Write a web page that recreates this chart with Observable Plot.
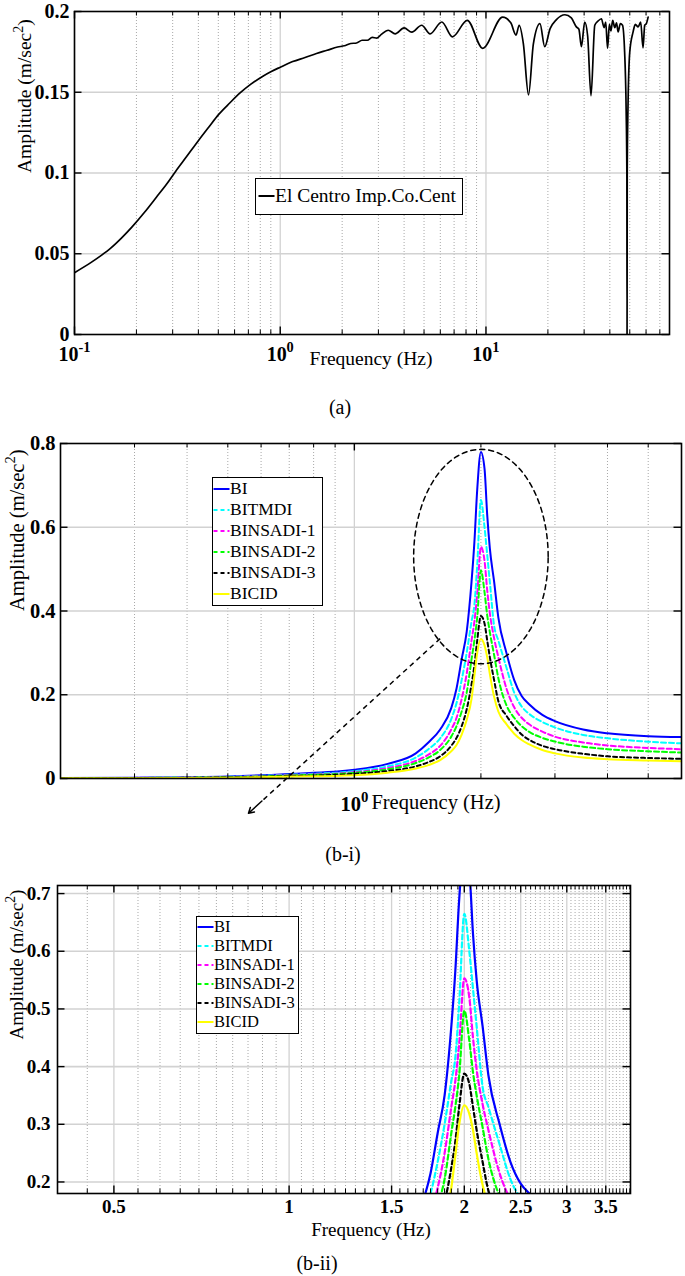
<!DOCTYPE html>
<html><head><meta charset="utf-8">
<script src="https://cdn.jsdelivr.net/npm/d3@7"></script>
<script src="https://cdn.jsdelivr.net/npm/@observablehq/plot@0.6"></script>
<style>
body{margin:0;background:#fff;}
#root{position:relative;width:685px;height:1276px;background:#fff;font-family:"Liberation Serif","Times New Roman",serif;overflow:hidden;color:#000}
#root svg, #root svg text, #root svg tspan{font-family:"Liberation Serif","Times New Roman",serif !important;}
.cap{position:absolute;font-size:20px;line-height:20px;transform:translateX(-50%);white-space:nowrap}
.legend{position:absolute;border:1.5px solid #000;background:#fff;box-sizing:border-box}
.row{display:flex;align-items:center;white-space:nowrap}
.row svg{flex:none}
</style></head><body><div id="root"></div>
<script>
// ---------- Panel (a) data: El Centro Fourier amplitude ----------
const aFreq = [0.1,0.12,0.135,0.15,0.17,0.19,0.22,0.25,0.28,0.31,0.35,0.4,0.45,0.5,0.57,0.64,0.72,0.82,0.9,1.0,1.15,1.32,1.5,1.69,1.9,2.05,2.2,2.35,2.5,2.65,2.8,2.95,3.1,3.35,3.62,4.0,4.36,4.87,5.35,6.1,6.87,8.11,9.64,12.05,13.2,14.0,14.5,15.2,16.1,17.0,18.3,19.3,20.5,22.0,24.2,26.0,27.5,28.3,29.1,30.2,31.2,32.4,33.8,35.0,36.4,37.5,38.2,39.0,39.8,40.5,41.3,42.3,43.1,43.9,45.0,46.1,47.2,48.0,48.4,48.5,48.6,49.0,50.0,51.9,53.2,54.9,56.5,58.0,59.1,60.2,61.4];
const aAmp = [0.0383,0.0445,0.049,0.0535,0.06,0.0665,0.076,0.085,0.093,0.101,0.11,0.12,0.1285,0.136,0.1435,0.1497,0.155,0.1598,0.1627,0.1655,0.169,0.1715,0.174,0.176,0.178,0.1788,0.1802,0.1805,0.1822,0.1822,0.184,0.1835,0.1858,0.1884,0.1862,0.1898,0.1872,0.1915,0.1862,0.1935,0.1843,0.1945,0.1772,0.1965,0.193,0.1854,0.1915,0.18,0.1484,0.18,0.1925,0.1782,0.1894,0.195,0.198,0.196,0.1905,0.189,0.1782,0.1935,0.185,0.1478,0.1915,0.194,0.1955,0.19,0.1935,0.1772,0.192,0.188,0.1945,0.19,0.193,0.1874,0.1925,0.1915,0.175,0.14,0.1,0.0,0.1,0.14,0.175,0.1874,0.192,0.1905,0.1935,0.1775,0.1915,0.1925,0.1965];
const aMajorTicks = [0.1, 1, 10];
const aMinorTicks = [0.2,0.3,0.4,0.5,0.6,0.7,0.8,0.9,2,3,4,5,6,7,8,9,20,30,40,50,60,70];
const aYTicks = [0, 0.05, 0.1, 0.15, 0.2];
const aLegendLabel = "El Centro Imp.Co.Cent";

// ---------- Panel (b) data: response spectra ----------
const bFreq = [0.2,0.3,0.5,0.7,1.0,1.2,1.4,1.5,1.6,1.7,1.75,1.8,1.85,1.9,1.93,1.96,2.0,2.04,2.07,2.1,2.15,2.2,2.3,2.4,2.5,2.6,2.8,3.0,3.5,4.0,5.0,6.0];
const seriesNames = ["BI","BITMDI","BINSADI-1","BINSADI-2","BINSADI-3","BICID"];
const ampBI       = [0.001,0.002,0.005,0.011,0.021,0.035,0.060,0.086,0.117,0.168,0.215,0.285,0.35,0.47,0.565,0.69,0.78,0.74,0.63,0.55,0.47,0.385,0.30,0.235,0.197,0.178,0.152,0.137,0.117,0.108,0.101,0.099];
const ampBITMDI   = [0.001,0.0015,0.004,0.009,0.0175,0.029,0.050,0.070,0.096,0.142,0.18,0.235,0.30,0.375,0.415,0.51,0.665,0.60,0.535,0.47,0.365,0.33,0.265,0.205,0.172,0.155,0.135,0.122,0.104,0.096,0.088,0.084];
const ampBINSADI1 = [0.001,0.0015,0.0035,0.008,0.015,0.025,0.042,0.057,0.078,0.117,0.145,0.19,0.25,0.33,0.375,0.44,0.553,0.52,0.45,0.395,0.335,0.29,0.215,0.17,0.145,0.13,0.112,0.10,0.086,0.079,0.073,0.070];
const ampBINSADI2 = [0.0008,0.0013,0.003,0.007,0.0136,0.022,0.037,0.05,0.068,0.10,0.125,0.16,0.205,0.285,0.33,0.385,0.497,0.445,0.39,0.35,0.295,0.24,0.175,0.145,0.125,0.112,0.097,0.088,0.076,0.07,0.065,0.062];
const ampBINSADI3 = [0.0005,0.001,0.0025,0.0055,0.011,0.018,0.029,0.039,0.053,0.078,0.097,0.125,0.165,0.225,0.27,0.33,0.388,0.37,0.33,0.29,0.235,0.185,0.15,0.125,0.105,0.093,0.078,0.07,0.059,0.053,0.049,0.047];
const ampBICID    = [0.0005,0.0008,0.002,0.0045,0.008,0.014,0.024,0.032,0.044,0.065,0.08,0.105,0.14,0.19,0.245,0.30,0.333,0.318,0.29,0.25,0.195,0.16,0.13,0.107,0.092,0.082,0.068,0.06,0.05,0.046,0.043,0.041];
const seriesAmps = [ampBI, ampBITMDI, ampBINSADI1, ampBINSADI2, ampBINSADI3, ampBICID];

const biMajorTicks = [1];
const biMinorTicks = [0.3,0.4,0.5,0.6,0.7,0.8,0.9,2,3,4,5];
const biYTicks = [0, 0.2, 0.4, 0.6, 0.8];
const zoomEllipse = {f: 2.0, amp: 0.53, halfDecades: 0.16, halfAmp: 0.256};
const zoomArrow = {f1: 1.6, a1: 0.334, f2: 0.56, a2: -0.083};

const biiMajorTicks = [0.5, 1, 1.5, 2, 2.5, 3, 3.5];
const biiYTicks = [0.2, 0.3, 0.4, 0.5, 0.6, 0.7];

// ---------- styles ----------
const seriesColors = ["#0000ff", "#00ffff", "#ff00ff", "#00ff00", "#000000", "#ffff00"];
const seriesDash = [null, "5,3", "5,3", "5,3", "4,3", null];
const FONT = '"Liberation Serif","Times New Roman",serif';

const root = document.getElementById("root");

function supers(svg) {
  d3.select(svg).selectAll("text").each(function () {
    const s = this.textContent;
    if (!s.includes("^")) return;
    const fs = parseFloat(getComputedStyle(this).fontSize) || 20;
    const parts = s.split(/\^(-?\w+)/);
    this.textContent = "";
    const el = d3.select(this);
    let raised = false;
    parts.forEach((p, i) => {
      if (p === "") return;
      const sup = i % 2 === 1;
      const ts = el.append("tspan").text(p);
      if (sup) { ts.attr("font-size", (fs * 0.72) + "px"); if (!raised) { ts.attr("dy", -fs * 0.42); raised = true; } }
      else if (raised) { ts.attr("dy", fs * 0.42); raised = false; }
    });
  });
}

function furniture(o) {
  const fh = o.height - o.mt - o.mb, fw = o.width - o.ml - o.mr;
  const minorLen = 4.5, majorLen = 7.5;
  const grids = [
    Plot.gridX(o.xMinor, {x: d => d, stroke: "#a8a8a8", strokeOpacity: 1, strokeWidth: 1, strokeDasharray: "1,2"}),
    Plot.gridX(o.xMajor, {x: d => d, stroke: "#d2d2d2", strokeOpacity: 1, strokeWidth: 1.3}),
    Plot.gridY(o.yGrid, {y: d => d, stroke: "#d2d2d2", strokeOpacity: 1, strokeWidth: 1.6})
  ];
  const ticks = [
    Plot.tickX(o.xMinor, {x: d => d, insetTop: fh - minorLen, stroke: "#000", strokeWidth: 1}),
    Plot.tickX(o.xMinor, {x: d => d, insetBottom: fh - minorLen, stroke: "#000", strokeWidth: 1}),
    Plot.tickX(o.xMajor, {x: d => d, insetTop: fh - majorLen, stroke: "#000", strokeWidth: 1.4}),
    Plot.tickX(o.xMajor, {x: d => d, insetBottom: fh - majorLen, stroke: "#000", strokeWidth: 1.4}),
    Plot.tickY(o.yTicks, {y: d => d, insetRight: fw - majorLen, stroke: "#000", strokeWidth: 1.4}),
    Plot.tickY(o.yTicks, {y: d => d, insetLeft: fw - majorLen, stroke: "#000", strokeWidth: 1.4}),
    Plot.frame({stroke: "#000", strokeWidth: 1.6}),
    Plot.axisX(o.xMajor, {label: null, tickSize: 0, tickPadding: o.xPad, tickFormat: o.xFmt, fontWeight: "bold", fontSize: o.tickFont, fontFamily: FONT}),
    Plot.axisY(o.yTicks, {label: null, tickSize: 0, tickPadding: o.yPad, tickFormat: d => String(d), fontWeight: "bold", fontSize: o.tickFont, fontFamily: FONT}),
    Plot.text(["Frequency (Hz)"], {text: d => d, frameAnchor: "bottom", dx: o.xLabelDx, dy: o.xLabelDy, fontSize: o.labelFont, fontFamily: FONT}),
    Plot.text(["Amplitude (m/sec^2)"], {text: d => d, frameAnchor: "left", rotate: -90, dx: o.yLabelDx, fontSize: o.labelFont, fontFamily: FONT})
  ];
  return {grids, ticks};
}

function place(svg, top) {
  svg.style.position = "absolute";
  svg.style.left = "0px";
  svg.style.top = top + "px";
  svg.style.overflow = "visible";
  svg.style.background = "transparent";
  root.appendChild(svg);
  supers(svg);
}

// ---------- Panel (a) ----------
{
  const o = {width: 685, height: 378, mt: 11, mr: 16, mb: 44, ml: 74,
    xMinor: aMinorTicks, xMajor: aMajorTicks, yGrid: aYTicks.slice(1, 4), yTicks: aYTicks,
    xFmt: d => "10^" + Math.round(Math.log10(d)), xPad: 12, yPad: 5, tickFont: 20,
    xLabelDx: -1, xLabelDy: 30, yLabelDx: -50, labelFont: 19.5};
  const f = furniture(o);
  const aData = aFreq.map((fq, i) => ({f: fq, a: aAmp[i]}));
  const svg = Plot.plot({
    width: o.width, height: o.height, marginTop: o.mt, marginRight: o.mr, marginBottom: o.mb, marginLeft: o.ml,
    style: {fontFamily: FONT, fontSize: "20px", background: "transparent", color: "#000"},
    x: {type: "log", domain: [0.1, 78]},
    y: {domain: [0, 0.2]},
    marks: [...f.grids,
      Plot.line(aData, {x: "f", y: "a", stroke: "#000", strokeWidth: 1.7, curve: "monotone-x", clip: true}),
      ...f.ticks]
  });
  place(svg, 0);
}

// ---------- Panel (b-i) ----------
{
  const o = {width: 685, height: 400, mt: 13, mr: 4, mb: 52, ml: 60,
    xMinor: biMinorTicks, xMajor: biMajorTicks, yGrid: [0.2, 0.4, 0.6], yTicks: biYTicks,
    xFmt: d => "10^" + Math.round(Math.log10(d)), xPad: 18, yPad: 5, tickFont: 20.5,
    xLabelDx: 65, xLabelDy: 30, yLabelDx: -43, labelFont: 20.5};
  const f = furniture(o);
  const lines = seriesNames.map((name, s) =>
    Plot.line(bFreq, {x: d => d, y: (d, j) => seriesAmps[s][j], stroke: seriesColors[s], strokeWidth: 2,
      strokeDasharray: seriesDash[s] || undefined, curve: "monotone-x", clip: true}));
  const ell = d3.range(0, 121).map(k => {
    const t = k / 120 * 2 * Math.PI;
    return {f: zoomEllipse.f * Math.pow(10, zoomEllipse.halfDecades * Math.cos(t)), a: zoomEllipse.amp + zoomEllipse.halfAmp * Math.sin(t)};
  });
  const frac = 0.93;
  const headStart = {
    f: Math.pow(10, Math.log10(zoomArrow.f1) + frac * (Math.log10(zoomArrow.f2) - Math.log10(zoomArrow.f1))),
    a: zoomArrow.a1 + frac * (zoomArrow.a2 - zoomArrow.a1)
  };
  const svg = Plot.plot({
    width: o.width, height: o.height, marginTop: o.mt, marginRight: o.mr, marginBottom: o.mb, marginLeft: o.ml,
    style: {fontFamily: FONT, fontSize: "20px", background: "transparent", color: "#000"},
    x: {type: "log", domain: [0.2, 6]},
    y: {domain: [0, 0.8]},
    marks: [...f.grids, ...lines,
      Plot.line(ell, {x: "f", y: "a", stroke: "#000", strokeWidth: 1.5, strokeDasharray: "5,4"}),
      Plot.link([zoomArrow], {x1: "f1", y1: "a1", x2: d => headStart.f, y2: d => headStart.a, stroke: "#000", strokeWidth: 1.5, strokeDasharray: "5,4"}),
      Plot.arrow([zoomArrow], {x1: d => headStart.f, y1: d => headStart.a, x2: "f2", y2: "a2", stroke: "#000", strokeWidth: 1.5, headLength: 9}),
      ...f.ticks]
  });
  place(svg, 430);
}

// ---------- Panel (b-ii) ----------
{
  const biiMinor = d3.range(8, 78).map(k => +(k * 0.05).toFixed(2)).filter(v => !biiMajorTicks.includes(v));
  const o = {width: 685, height: 375, mt: 15, mr: 55, mb: 52, ml: 57,
    xMinor: biiMinor, xMajor: biiMajorTicks, yGrid: biiYTicks, yTicks: biiYTicks,
    xFmt: d => String(d), xPad: 6, yPad: 7, tickFont: 19,
    xLabelDx: 27, xLabelDy: 42, yLabelDx: -41, labelFont: 19};
  const f = furniture(o);
  const lines = seriesNames.map((name, s) =>
    Plot.line(bFreq, {x: d => d, y: (d, j) => seriesAmps[s][j], stroke: seriesColors[s], strokeWidth: 2.2,
      strokeDasharray: seriesDash[s] || undefined, curve: "monotone-x", clip: true}));
  const svg = Plot.plot({
    width: o.width, height: o.height, marginTop: o.mt, marginRight: o.mr, marginBottom: o.mb, marginLeft: o.ml,
    style: {fontFamily: FONT, fontSize: "20px", background: "transparent", color: "#000"},
    x: {type: "log", domain: [0.4, 3.86]},
    y: {domain: [0.18, 0.714]},
    marks: [...f.grids, ...lines, ...f.ticks]
  });
  place(svg, 870);
}

// ---------- Legends ----------
function legend({left, top, width, height, rowH, fontSize, padLeft, items}) {
  const box = document.createElement("div");
  box.className = "legend";
  Object.assign(box.style, {left: left + "px", top: top + "px", width: width + "px", height: height + "px", fontSize: fontSize + "px"});
  items.forEach(it => {
    const row = document.createElement("div");
    row.className = "row";
    row.style.height = rowH + "px";
    row.style.paddingLeft = padLeft + "px";
    row.innerHTML = `<svg width="17" height="6"><line x1="0.5" x2="16.5" y1="3" y2="3" stroke="${it.color}" stroke-width="2"${it.dash ? ` stroke-dasharray="${it.dash}"` : ""}/></svg><span style="line-height:${rowH}px">${it.name}</span>`;
    box.appendChild(row);
  });
  root.appendChild(box);
}
legend({left: 255, top: 178, width: 208, height: 37, rowH: 34, fontSize: 19.5, padLeft: 2,
  items: [{name: aLegendLabel, color: "#000", dash: null}]});
const bItems = seriesNames.map((n, s) => ({name: n, color: seriesColors[s], dash: seriesDash[s] ? "4,3" : null}));
legend({left: 212, top: 477, width: 111, height: 129, rowH: 21, fontSize: 17.5, padLeft: 0, items: bItems});
legend({left: 196, top: 916, width: 103, height: 118, rowH: 19.1, fontSize: 16.5, padLeft: 0, items: bItems});

// ---------- Captions ----------
[["(a)", 340, 397], ["(b-i)", 343, 844], ["(b-ii)", 317, 1253]].forEach(([t, x, y]) => {
  const c = document.createElement("div");
  c.className = "cap";
  c.textContent = t;
  c.style.left = x + "px";
  c.style.top = y + "px";
  root.appendChild(c);
});
</script></body></html>
